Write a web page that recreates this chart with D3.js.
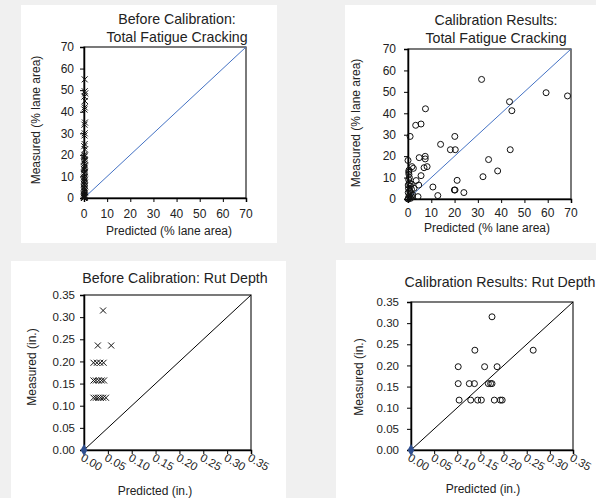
<!DOCTYPE html>
<html>
<head>
<meta charset="utf-8">
<script src="https://cdn.jsdelivr.net/npm/d3@7"></script>
<style>
body { margin: 0; background: #f0f0f0; }
svg { display: block; font-family: "Liberation Sans", Arial, sans-serif; }
</style>
</head>
<body>
<svg id="chart" width="596" height="498"></svg>
<script>
// tick values
var fatigueTicks = [0, 10, 20, 30, 40, 50, 60, 70];
var rutTicks = [0, 0.05, 0.10, 0.15, 0.20, 0.25, 0.30, 0.35];

// before calibration: fatigue cracking (predicted is ~0 everywhere)
var beforeFatiguePred = [0.3, 0.3, 0.5, 0.2, 0.4, 0.3, 0.2, 0.4, 0.2, 0.3, 0.2, 0.3, 0.1, 0.4, 0.2, 0.3, 0.1,
  0.2, 0.4, 0, 0.2, 0.4, 0, 0.3, 0, 0.2, 0.4, 0, 0.1, 0.3, 0, 0.2, 0.4, 0, 0.1, 0.3, 0, 0.2, 0.4, 0,
  0.1, 0.3, 0, 0.2, 0.4, 0, 0.1, 0.3, 0, 0.2, 0.4, 0, 0.3, 0.1, 0];
var beforeFatigueMeas = [55, 49.5, 48.5, 47, 45, 42, 41, 35, 34, 30, 29, 25, 24, 22.5, 20, 19.5, 19,
  18, 17.5, 17, 16, 15, 14.5, 14, 13.5, 13, 12, 11.5, 11, 10, 9.5, 9, 8.5, 8, 7.5, 7, 6.5, 6, 5.5, 5,
  4.5, 4, 3.5, 3, 2.5, 2, 1.5, 1.2, 1, 0.8, 0.5, 0.3, 0.2, 0.1, 0];

// calibration results: fatigue cracking
var calFatiguePred = [31.6, 59.3, 68.5, 43.6, 44.6, 7.5, 3.3, 5.6, 0.9, 20.1, 14, 18.2, 20.3, 43.9, 34.6,
  4.8, 7.4, 7.4, 6.9, 8.2, 5.6, 0, 1.7, 2.3, 0.4, 10.7, 21.1, 32.2, 38.5, 19.9, 20.2, 24, 12.8, 4.3,
  3.5, 4.6, 1, 1.5, 0.3, 0.6, 0.2, 0.8, 1.2, 0.1, 0.5, 2, 0.3, 0.9, 0.1, 1.4, 0.6, 2.6, 0.2, 0.4, 1.8, 0, 0.7, 0.3, 1.1];
var calFatigueMeas = [55.8, 49.6, 48.1, 45.4, 41.2, 42.1, 34.4, 35, 29.2, 29.2, 25.5, 23, 23, 23, 18.4,
  19.3, 19.9, 18.7, 14.6, 15.1, 10.9, 18, 15.1, 14.3, 13.4, 5.6, 8.7, 10.4, 13.1, 4.2, 4.2, 3, 1.6, 1.1,
  8.6, 6.5, 6, 4.5, 9, 7.5, 5, 3.5, 2.5, 6.5, 1.5, 2, 0.5, 0.8, 3, 7, 10, 5, 0.2, 11.5, 1, 0, 4, 12.5, 0.3];

// before calibration: rut depth
var beforeRutPred = [0.040, 0.029, 0.057, 0.020, 0.027, 0.034, 0.041, 0.020, 0.025, 0.031, 0.037, 0.042,
  0.020, 0.025, 0.030, 0.035, 0.040, 0.046];
var beforeRutMeas = [0.315, 0.236, 0.236, 0.197, 0.197, 0.197, 0.197, 0.157, 0.157, 0.157, 0.157, 0.157,
  0.118, 0.118, 0.118, 0.118, 0.118, 0.118];

// calibration results: rut depth
var calRutPred = [0.175, 0.138, 0.264, 0.102, 0.159, 0.186, 0.102, 0.126, 0.137, 0.167, 0.172, 0.175,
  0.104, 0.129, 0.144, 0.152, 0.180, 0.193, 0.197];
var calRutMeas = [0.315, 0.236, 0.236, 0.197, 0.197, 0.197, 0.157, 0.157, 0.157, 0.157, 0.157, 0.157,
  0.118, 0.118, 0.118, 0.118, 0.118, 0.118, 0.118];

var svg = d3.select("#chart");

var panels = [
  { bg: [21, 5, 256, 238], plot: [84, 246, 47, 198], title: ["Before Calibration:", "Total Fatigue Cracking"],
    titleX: 177, titleY: [24, 42], ticks: fatigueTicks, max: 70, fmt: d3.format("d"), tickFont: 12, yPad: 6,
    xs: beforeFatiguePred, ys: beforeFatigueMeas, mark: "x", lineColor: "#4472c4",
    xLabel: "Predicted (% lane area)", xLabelX: 169, xLabelY: 235, xTickY: 218,
    yLabel: "Measured (% lane area)", yLabelX: 40, yLabelY: 120, rotated: false },
  { bg: [345, 5, 251, 238], plot: [408, 571, 49, 199], title: ["Calibration Results:", "Total Fatigue Cracking"],
    titleX: 496, titleY: [25, 43], ticks: fatigueTicks, max: 70, fmt: d3.format("d"), tickFont: 12, yPad: 8,
    xs: calFatiguePred, ys: calFatigueMeas, mark: "o", lineColor: "#4472c4",
    xLabel: "Predicted (% lane area)", xLabelX: 487, xLabelY: 232, xTickY: 217,
    yLabel: "Measured (% lane area)", yLabelX: 360, yLabelY: 123, rotated: false },
  { bg: [11, 261, 275, 237], plot: [84, 251, 295, 450], title: ["Before Calibration: Rut Depth"],
    titleX: 175, titleY: [283], ticks: rutTicks, max: 0.35, fmt: d3.format(".2f"), tickFont: 11.5, yPad: 5,
    xs: beforeRutPred, ys: beforeRutMeas, mark: "x", lineColor: "#000",
    xLabel: "Predicted (in.)", xLabelX: 155, xLabelY: 495, xTickY: 460,
    yLabel: "Measured (in.)", yLabelX: 36, yLabelY: 367, rotated: true },
  { bg: [336, 260, 260, 238], plot: [411, 573, 302, 450], title: ["Calibration Results: Rut Depth"],
    titleX: 500, titleY: [287], ticks: rutTicks, max: 0.35, fmt: d3.format(".2f"), tickFont: 11.5, yPad: 8,
    xs: calRutPred, ys: calRutMeas, mark: "o", lineColor: "#000",
    xLabel: "Predicted (in.)", xLabelX: 483, xLabelY: 493, xTickY: 460,
    yLabel: "Measured (in.)", yLabelX: 363, yLabelY: 377, rotated: true }
];

panels.forEach(function(p) {
  svg.append("rect")
    .attr("x", p.bg[0]).attr("y", p.bg[1])
    .attr("width", p.bg[2]).attr("height", p.bg[3])
    .attr("fill", "#fff");

  var x = d3.scaleLinear().domain([0, p.max]).range([p.plot[0], p.plot[1]]);
  var y = d3.scaleLinear().domain([0, p.max]).range([p.plot[3], p.plot[2]]);

  // plot border
  svg.append("rect")
    .attr("x", p.plot[0]).attr("y", p.plot[2])
    .attr("width", p.plot[1] - p.plot[0]).attr("height", p.plot[3] - p.plot[2])
    .attr("fill", "none").attr("stroke", "#222").attr("stroke-width", 1.2);

  // y axis
  var yAxis = svg.append("g")
    .attr("transform", "translate(" + p.plot[0] + ",0)")
    .call(d3.axisLeft(y).tickValues(p.ticks).tickFormat(p.fmt).tickSize(4).tickPadding(p.yPad));
  yAxis.select(".domain").attr("stroke", "#000").attr("stroke-width", 1.5);
  yAxis.selectAll("text").attr("font-size", p.tickFont).attr("fill", "#222").attr("font-family", null);

  // x axis
  var xAxis = svg.append("g")
    .attr("transform", "translate(0," + p.plot[3] + ")")
    .call(d3.axisBottom(x).tickValues(p.ticks).tickFormat(p.fmt).tickSize(4));
  xAxis.select(".domain").attr("stroke", "#000").attr("stroke-width", 1.5);
  xAxis.selectAll("text").remove();
  svg.append("g").selectAll("text")
    .data(p.ticks)
    .enter().append("text")
    .attr("font-size", p.tickFont).attr("fill", "#222")
    .attr("text-anchor", p.rotated ? "start" : "middle")
    .attr("transform", function(d) {
      return p.rotated
        ? "translate(" + (x(d) - 4) + "," + p.xTickY + ") rotate(30)"
        : "translate(" + x(d) + "," + p.xTickY + ")";
    })
    .text(p.fmt);

  // 1:1 line
  svg.append("line")
    .attr("x1", x(0)).attr("y1", y(0))
    .attr("x2", x(p.max)).attr("y2", y(p.max))
    .attr("stroke", p.lineColor).attr("stroke-width", 1);

  if (p.rotated) {
    svg.append("path")
      .attr("d", d3.symbol().type(d3.symbolDiamond).size(40))
      .attr("transform", "translate(" + x(0) + "," + y(0) + ")")
      .attr("fill", "#2f4f8f");
  }

  var pts = p.xs.map(function(v, i) { return [v, p.ys[i]]; });
  var g = svg.append("g");
  if (p.mark === "x") {
    g.selectAll("path").data(pts).enter().append("path")
      .attr("d", function(d) {
        var cx = x(d[0]), cy = y(d[1]), s = 3;
        return "M" + (cx - s) + "," + (cy - s) + "L" + (cx + s) + "," + (cy + s) +
               "M" + (cx - s) + "," + (cy + s) + "L" + (cx + s) + "," + (cy - s);
      })
      .attr("stroke", "#111").attr("stroke-width", 1).attr("fill", "none");
  } else {
    g.selectAll("circle").data(pts).enter().append("circle")
      .attr("cx", function(d) { return x(d[0]); })
      .attr("cy", function(d) { return y(d[1]); })
      .attr("r", 3)
      .attr("fill", "none").attr("stroke", "#111").attr("stroke-width", 1);
  }

  // titles and labels
  p.title.forEach(function(t, i) {
    svg.append("text")
      .attr("x", p.titleX).attr("y", p.titleY[i])
      .attr("text-anchor", "middle").attr("font-size", 14.2).attr("fill", "#222")
      .text(t);
  });
  svg.append("text")
    .attr("x", p.xLabelX).attr("y", p.xLabelY)
    .attr("text-anchor", "middle").attr("font-size", 12).attr("fill", "#222")
    .text(p.xLabel);
  svg.append("text")
    .attr("transform", "translate(" + p.yLabelX + "," + p.yLabelY + ") rotate(-90)")
    .attr("text-anchor", "middle").attr("font-size", 12).attr("fill", "#222")
    .text(p.yLabel);
});
</script>
</body>
</html>
